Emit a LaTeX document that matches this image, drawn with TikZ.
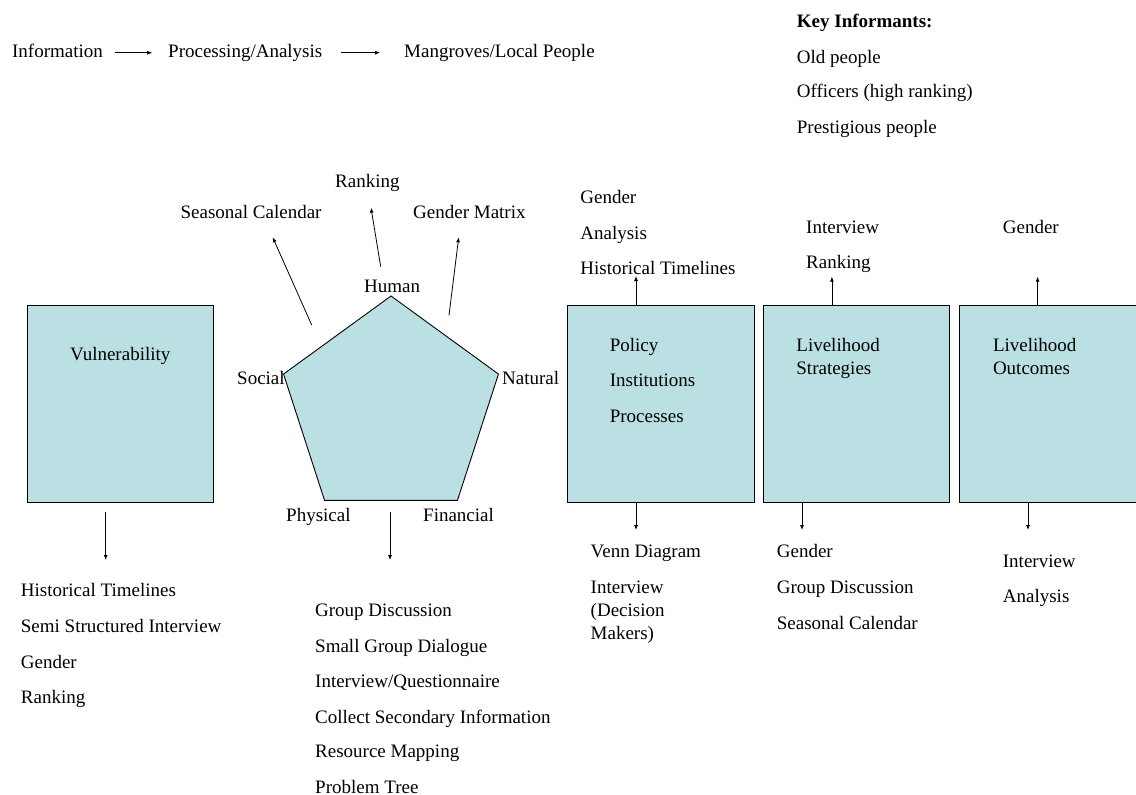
\documentclass[tikz,border=0pt]{standalone}
\usepackage{fontspec}
\setmainfont{Liberation Serif}
\usetikzlibrary{arrows.meta}
\definecolor{panelblue}{RGB}{187,224,227}
\tikzset{
  txt/.style={anchor=base west,inner sep=0pt,text height=13pt,text depth=4pt},
  panel/.style={draw=black,fill=panelblue,line width=0.9pt},
  box/.style={panel,anchor=north west,minimum height=196.7pt,inner sep=0pt},
  arr/.style={-{Latex[length=5pt,width=4pt]},line width=0.8pt}
}
\begin{document}
\begin{tikzpicture}[x=1pt,y=-1pt,font=\fontsize{19}{23}\selectfont]
  \useasboundingbox (0,0) rectangle (1136,795);
  \clip (0,0) rectangle (1136,795);
  % flow line
  \path
    (11.9,57.2) node[txt] (info){Information}
    (168,57.2) node[txt] (proc){Processing/Analysis}
    (404,57.2) node[txt] (mang){Mangroves/Local People};
  \draw[arr,shorten <=12pt,shorten >=15.8pt] (info.east) -- (info.east -| proc.west);
  \draw[arr,shorten <=18.7pt,shorten >=24pt] (proc.east) -- (proc.east -| mang.west);
  % key informants
  \path
    (796.7,27.2) node[txt,font=\fontsize{19}{23}\selectfont\bfseries] (key){Key Informants:}
    (796.7,63.2) node[txt] (key1){Old people}
    (796.7,97.2) node[txt] (key2){Officers (high ranking)}
    (796.7,133.2) node[txt] (key3){Prestigious people};
  % boxes
  \node[box,minimum width=186.6pt] (vul) at (26.7,305) {};
  \node[box,minimum width=187pt] (pol) at (566.6,305) {};
  \node[box,minimum width=186.2pt] (strat) at (763.2,305) {};
  \node[box,minimum width=187pt] (outc) at (959.3,305) {};
  \path
    (70,360.5) node[txt] (vult){Vulnerability}
    (609.6,351.5) node[txt] (polt1){Policy}
    (609.6,386.5) node[txt] (polt2){Institutions}
    (609.6,422.5) node[txt] (polt3){Processes}
    (796.2,374) node[txt,align=left] (stratt){Livelihood\\Strategies}
    (992.8,374) node[txt,align=left] (outct){Livelihood\\Outcomes};
  % capitals pentagon
  \coordinate (pc) at (391,409);
  \draw[panel] (pc) +(-90:113) -- +(-18:113) -- +(54:113) -- +(126:113) -- +(198:113) -- cycle;
  \path
    (364,292.5) node[txt] (human){Human}
    (237,384.5) node[txt] (social){Social}
    (502,384.5) node[txt] (natural){Natural}
    (286,521.5) node[txt] (physical){Physical}
    (423,521.5) node[txt] (financial){Financial};
  \path
    (321.7,218) node[txt,anchor=base east] (seas){Seasonal Calendar}
    (335,187) node[txt] (rank){Ranking}
    (413,218) node[txt] (gmat){Gender Matrix};
  \coordinate (s0) at (311.7,325);
  \coordinate (s1) at (272.7,237.3);
  \coordinate (r0) at (380.7,266.7);
  \coordinate (r1) at (371,207.7);
  \coordinate (g0) at (449,315.3);
  \coordinate (g1) at (458.7,237.3);
  % tool lists above
  \path
    (580.2,203.2) node[txt] (pa1){Gender}
    (580.2,239.2) node[txt] (pa2){Analysis}
    (580.2,274.2) node[txt] (pa3){Historical Timelines}
    (806,233.5) node[txt] (sa1){Interview}
    (806,268.5) node[txt] (sa2){Ranking}
    (1002.7,233.5) node[txt] (oa1){Gender};
  \coordinate (pu) at (636,276);
  \coordinate (su) at (831.9,276.7);
  \coordinate (ou) at (1037.6,276.7);
  % tool lists below
  \path
    (20.7,596.5) node[txt] (vb1){Historical Timelines}
    (20.7,632.5) node[txt] (vb2){Semi Structured Interview}
    (20.7,668.2) node[txt] (vb3){Gender}
    (20.7,703.2) node[txt] (vb4){Ranking}
    (315,616.5) node[txt] (cb1){Group Discussion}
    (315,652.5) node[txt] (cb2){Small Group Dialogue}
    (315,687.5) node[txt] (cb3){Interview/Questionnaire}
    (315,723.2) node[txt] (cb4){Collect Secondary Information}
    (315,757.5) node[txt] (cb5){Resource Mapping}
    (315,793.2) node[txt,text depth=0pt] (cb6){Problem Tree}
    (590.5,557.5) node[txt] (pb1){Venn Diagram}
    (590.5,639.8) node[txt,align=left] (pb2){Interview\\(Decision\\Makers)}
    (776.7,557.5) node[txt] (sb1){Gender}
    (776.7,593.8) node[txt] (sb2){Group Discussion}
    (776.7,629.2) node[txt] (sb3){Seasonal Calendar}
    (1002.7,567.2) node[txt] (ob1){Interview}
    (1002.7,602.5) node[txt] (ob2){Analysis};
  \coordinate (v0) at (105.7,511.7);
  \coordinate (v1) at (105.7,560);
  \coordinate (c0) at (390,511.7);
  \coordinate (c1) at (390,560);
  \coordinate (pd) at (636,530);
  \coordinate (sd) at (802,530);
  \coordinate (od) at (1028,530);
  \begin{scope}[arr]
    \draw (s0) to (s1);
    \draw (r0) to (r1);
    \draw (g0) to (g1);
    \draw (pol.north -| pu) to (pu);
    \draw (strat.north -| su) to (su);
    \draw (outc.north -| ou) to (ou);
    \draw (v0) to (v1);
    \draw (c0) to (c1);
    \draw (pol.south -| pd) to (pd);
    \draw (strat.south -| sd) to (sd);
    \draw (outc.south -| od) to (od);
  \end{scope}
\end{tikzpicture}
\end{document}
